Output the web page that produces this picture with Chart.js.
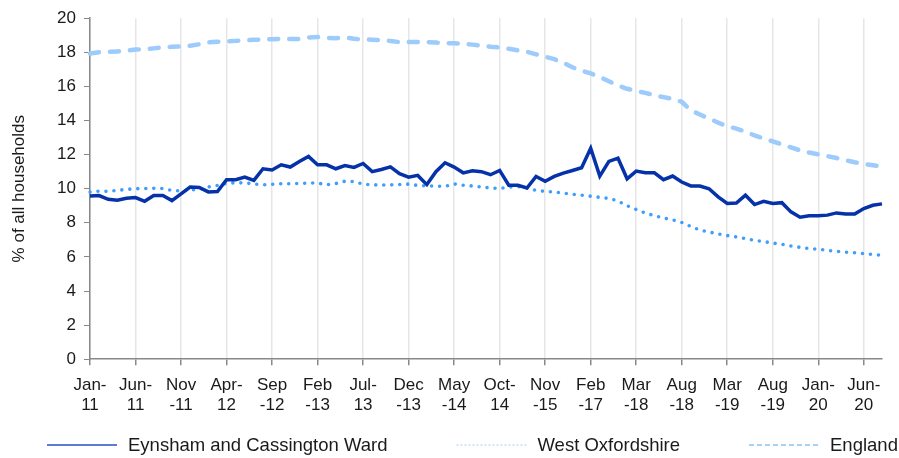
<!DOCTYPE html>
<html>
<head>
<meta charset="utf-8">
<script src="https://cdn.jsdelivr.net/npm/chart.js@4.4.1/dist/chart.umd.min.js"></script>
<style>
  body { margin: 0; background: #fff; }
  #wrap { width: 899px; height: 458px; position: relative; }
</style>
</head>
<body>
<div id="wrap"><canvas id="myChart"></canvas></div>
<script>
// months shown on the x axis (monthly to Oct-14, then gaps, then monthly again)
let months = [
  'Jan-11','Feb-11','Mar-11','Apr-11','May-11','Jun-11','Jul-11','Aug-11','Sep-11','Oct-11',
  'Nov-11','Dec-11','Jan-12','Feb-12','Mar-12','Apr-12','May-12','Jun-12','Jul-12','Aug-12',
  'Sep-12','Oct-12','Nov-12','Dec-12','Jan-13','Feb-13','Mar-13','Apr-13','May-13','Jun-13',
  'Jul-13','Aug-13','Sep-13','Oct-13','Nov-13','Dec-13','Jan-14','Feb-14','Mar-14','Apr-14',
  'May-14','Jun-14','Jul-14','Aug-14','Sep-14','Oct-14','Jan-15','Apr-15','Jul-15','Sep-15',
  'Nov-15','Feb-16','May-16','Aug-16','Nov-16','Feb-17','May-17','Aug-17','Nov-17','Feb-18',
  'Mar-18','Apr-18','May-18','Jun-18','Jul-18','Aug-18','Sep-18','Oct-18','Nov-18','Jan-19',
  'Mar-19','Apr-19','May-19','Jun-19','Jul-19','Aug-19','Sep-19','Oct-19','Nov-19','Dec-19',
  'Jan-20','Feb-20','Mar-20','Apr-20','May-20','Jun-20','Jul-20','Aug-20'
]

let eynsham = [
  9.57, 9.6, 9.38, 9.33, 9.44, 9.48, 9.26, 9.6, 9.6, 9.3,
  9.7, 10.1, 10.07, 9.81, 9.83, 10.53, 10.53, 10.68, 10.49, 11.17,
  11.1, 11.4, 11.27, 11.6, 11.89, 11.4, 11.4, 11.17, 11.36, 11.25,
  11.48, 11.0, 11.13, 11.28, 10.88, 10.68, 10.78, 10.24, 11.0, 11.52,
  11.27, 10.93, 11.05, 11.0, 10.82, 11.07, 10.2, 10.2, 10.04, 10.72,
  10.43, 10.72, 10.91, 11.07, 11.23, 12.37, 10.74, 11.6, 11.79, 10.58,
  11.03, 10.93, 10.93, 10.53, 10.74, 10.39, 10.16, 10.16, 10.0, 9.52,
  9.13, 9.16, 9.62, 9.07, 9.26, 9.13, 9.18, 8.64, 8.33, 8.41,
  8.41, 8.45, 8.58, 8.51, 8.51, 8.84, 9.03, 9.11
]

let westOxon = [
  9.8, 9.86, 9.84, 9.9, 9.96, 10.0, 10.01, 10.02, 10.01, 9.9,
  9.87, 9.92, 9.97, 10.1, 10.19, 10.32, 10.35, 10.34, 10.28, 10.23,
  10.26, 10.29, 10.29, 10.31, 10.33, 10.33, 10.23, 10.3, 10.44, 10.42,
  10.27, 10.23, 10.21, 10.22, 10.25, 10.27, 10.19, 10.16, 10.15, 10.13,
  10.28, 10.2, 10.16, 10.1, 10.04, 10.01, 10.09, 10.12, 10.04, 9.9,
  9.84, 9.8, 9.74, 9.67, 9.62, 9.56, 9.49, 9.43, 9.28, 9.0,
  8.78, 8.57, 8.42, 8.28, 8.17, 8.02, 7.78, 7.57, 7.46, 7.35,
  7.25, 7.17, 7.07, 6.97, 6.9, 6.81, 6.74, 6.64, 6.56, 6.49,
  6.45, 6.38, 6.33, 6.28, 6.24, 6.19, 6.14, 6.1
]

let england = [
  17.93, 18.0, 18.02, 18.05, 18.09, 18.16, 18.18, 18.23, 18.29, 18.32,
  18.34, 18.39, 18.47, 18.58, 18.62, 18.64, 18.67, 18.7, 18.73, 18.75,
  18.77, 18.79, 18.78, 18.78, 18.87, 18.9, 18.85, 18.83, 18.87, 18.79,
  18.75, 18.74, 18.72, 18.66, 18.6, 18.6, 18.6, 18.6, 18.57, 18.54,
  18.53, 18.5, 18.45, 18.39, 18.32, 18.28, 18.21, 18.12, 18.03, 17.88,
  17.74, 17.6, 17.39, 17.12, 16.92, 16.76, 16.55, 16.3, 16.05, 15.86,
  15.73, 15.62, 15.49, 15.37, 15.26, 15.1, 14.6, 14.35, 14.12, 13.87,
  13.67, 13.52, 13.35, 13.12, 12.95, 12.77, 12.6, 12.42, 12.25, 12.12,
  12.01, 11.91, 11.8, 11.67, 11.55, 11.45, 11.37, 11.3
]

let seriesNames = ['Eynsham and Cassington Ward', 'West Oxfordshire', 'England']
let yTicks = [0, 2, 4, 6, 8, 10, 12, 14, 16, 18, 20]

// Excel wraps "Jan-11" as "Jan-/11" but "Nov-11" as "Nov/-11"
let narrowMonths = ['Jan', 'Jun', 'Apr', 'Jul', 'Oct']
function wrapLabel(lbl) {
  let parts = lbl.split('-')
  if (narrowMonths.indexOf(parts[0]) >= 0) return [parts[0] + '-', parts[1]]
  return [parts[0], '-' + parts[1]]
}

let fontFamily = '"Liberation Sans", Arial, sans-serif'
Chart.defaults.font.family = fontFamily
Chart.defaults.font.size = 17
Chart.defaults.color = '#1a1a1a'

let legendLines = [
  { color: '#2a4fc4', width: 1.5, dash: [] },
  { color: '#c5dcf5', width: 1.5, dash: [2, 2] },
  { color: '#8fc4f2', width: 1.5, dash: [5, 3] }
]

// legend drawn by hand: Excel spaces its entries much wider than Chart.js does
let bottomLegend = {
  id: 'bottomLegend',
  afterDraw(chart) {
    let c = chart.ctx
    c.save()
    c.font = '18.5px ' + fontFamily
    c.textBaseline = 'middle'
    let y = chart.height - 13
    let x = 47
    seriesNames.forEach(function(name, i) {
      let l = legendLines[i]
      c.strokeStyle = l.color
      c.lineWidth = l.width
      c.setLineDash(l.dash)
      c.beginPath()
      c.moveTo(x, y)
      c.lineTo(x + 70, y)
      c.stroke()
      c.setLineDash([])
      c.fillStyle = '#1a1a1a'
      c.fillText(name, x + 81, y + 1)
      x += 81 + c.measureText(name).width + 69
    })
    c.restore()
  }
}

let ctx = document.getElementById('myChart').getContext('2d')

let chart = new Chart(ctx, {
  type: 'line',
  data: {
    labels: months,
    datasets: [
      {
        label: seriesNames[0],
        data: eynsham,
        borderColor: '#0532a8',
        borderWidth: 3.5,
        borderJoinStyle: 'miter',
        pointRadius: 0,
        tension: 0
      },
      {
        label: seriesNames[1],
        data: westOxon,
        borderColor: '#3f9dfb',
        borderWidth: 3.6,
        borderDash: [0, 8],
        borderCapStyle: 'round',
        pointRadius: 0,
        tension: 0
      },
      {
        label: seriesNames[2],
        data: england,
        borderColor: '#9dcbfb',
        borderWidth: 4.5,
        borderDash: [9, 11],
        borderCapStyle: 'round',
        pointRadius: 0,
        tension: 0
      }
    ]
  },
  plugins: [bottomLegend],
  options: {
    responsive: true,
    maintainAspectRatio: false,
    animation: false,
    layout: { padding: { left: 0, right: 17, top: 1, bottom: 32 } },
    plugins: {
      tooltip: { enabled: false },
      legend: { display: false }
    },
    scales: {
      x: {
        ticks: {
          autoSkip: false,
          maxRotation: 0,
          padding: 10,
          color: '#1a1a1a',
          callback: function(val, i) {
            if (i % 5 !== 0) return null
            return wrapLabel(months[i])
          }
        },
        grid: {
          color: '#e6e6e6',
          lineWidth: 1.5,
          tickColor: '#888888',
          tickLength: 6,
          drawOnChartArea: true
        },
        border: { display: true, color: '#888888', width: 1.5 }
      },
      y: {
        min: 0,
        max: 20,
        afterBuildTicks: function(scale) {
          scale.ticks = yTicks.map(function(v) { return { value: v } })
        },
        afterFit: function(scale) { scale.width = 90 },
        ticks: { padding: 8, color: '#1a1a1a' },
        grid: {
          drawOnChartArea: false,
          tickColor: '#888888',
          tickLength: 6
        },
        border: { display: true, color: '#888888', width: 1.5 },
        title: {
          display: true,
          text: '% of all households',
          font: { size: 17 },
          color: '#1a1a1a',
          padding: { top: 9, bottom: 0 }
        }
      }
    }
  }
})
</script>
</body>
</html>
